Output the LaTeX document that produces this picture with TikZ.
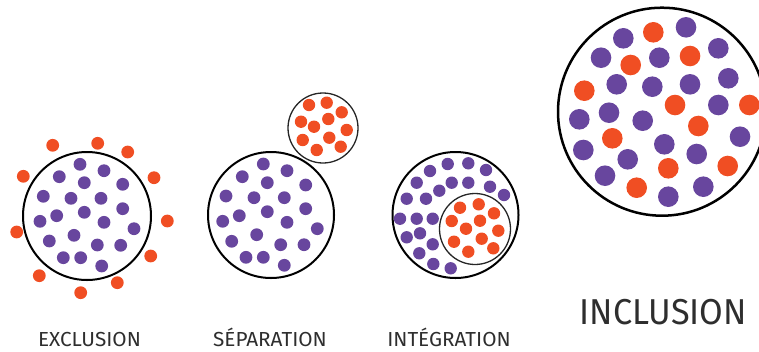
\documentclass[tikz,border=0pt]{standalone}
\usepackage{fontspec}
\setmainfont{Fira Sans}
\definecolor{purp}{HTML}{68469E}
\definecolor{oran}{HTML}{F04E23}
\definecolor{txt}{HTML}{2E2E2E}
\begin{document}
\begin{tikzpicture}[x=1pt,y=-1pt,
  ring/.style={draw=black,line width=2pt},
  thinring/.style={draw=black!85,line width=1.3pt},
  lbl/.style={text=txt,inner sep=0pt,anchor=center},
]
\useasboundingbox (0,0) rectangle (759,351);
\newcommand{\pd}[3]{\fill[purp] (#1,#2) circle (#3);}
\newcommand{\od}[3]{\fill[oran] (#1,#2) circle (#3);}
% ---------- EXCLUSION ----------
\draw[ring] (87,216) circle (64);
\foreach \x/\y in {80/164.3,59.3/176.7,104/170.7,84.3/182.7,122.7/184.3,43.3/196.3,71/198.3,101/198.3,84.3/212.3,122.7/208.7,56.7/215.7,40/221.3,104/222.3,134/228.7,74/235.3,49.3/241,97.3/245,120.7/245.3,63.3/257.7,80.7/257.7,101.7/266}
  {\pd{\x}{\y}{6.4}}
\foreach \x/\y in {52.7/145.3,97.7/143.3,127.7/152,23.3/176.3,154/177.7,167.3/221,16.7/232,150.7/256,39.3/275.7,117.3/282.7,80.7/292.7}
  {\od{\x}{\y}{6.4}}
% ---------- SEPARATION ----------
\draw[ring] (271,215) circle (63);
\foreach \x/\y in {263.3/164,242.3/176.7,287/170.7,267.3/182.7,305.7/185,226/196,254/197.7,284.3/197.7,267.3/211.7,305.7/208.7,239.3/215.7,222.7/221.3,287/222.3,317.3/228.7,256.7/234.7,231.7/241.3,280.7/244.7,304/244.7,246/257.3,263.3/257.3,284.3/265.3}
  {\pd{\x}{\y}{6.4}}
\draw[thinring] (323,128) circle (35);
\foreach \x/\y in {309/105,326.7/102.7,341.7/112.3,301/121.7,314/126.7,328.3/119,346.7/130,302.7/140,329.3/137.7,316.7/150,340.7/146.7}
  {\od{\x}{\y}{6.2}}
% ---------- INTEGRATION ----------
\draw[ring] (455.5,215) circle (63);
\foreach \x/\y in {447.7/164,468.3/163.3,430/171,486/170,416.7/182.7,451.7/182.7,468.3/182.7,439.3/190.7,490/186.7,504/195,406.7/198.7,426/198.7,400/218.7,416.7/218.7,432.7/218.7,420/233.3,406.7/237.3,432.7/244.3,419.3/253.3,433.3/264,450.7/268.3}
  {\pd{\x}{\y}{6.2}}
\draw[thinring] (475,229) circle (35.5);
\foreach \x/\y in {460/207.7,478.7/204.3,494/213.3,451.7/221,480/220.7,466/228.7,498.3/230.7,454/241.7,481.7/238.7,468.3/251.7,493.3/248.3}
  {\od{\x}{\y}{6.2}}
% ---------- INCLUSION ----------
\draw[draw=black,line width=2.5pt] (662,111.7) circle (104);
\foreach \x/\y in {623.3/38.3,686/27.3,601/57.7,659.3/57.7,718.3/48.3,616.7/84.3,652.3/86.7,690/84.3,728.3/78.3,609/112.7,579.3/119.3,642.7/120.7,718.3/105,740/136.7,583.3/150,664.3/144.3,696.7/154,627.7/159.3,605/175.7,703.3/186.7,668.3/196.7}
  {\pd{\x}{\y}{10.3}}
\foreach \x/\y in {653.3/32.3,690/56,630.7/65,584.3/90.7,675/105,749.3/105,698.3/126,612.3/138.3,668.3/168.3,727.7/166,636.7/187.7}
  {\od{\x}{\y}{10.3}}
% ---------- labels ----------
\node[lbl,font=\fontsize{20.3}{22}\selectfont] (lexc) at (89.5,339.7) {\scalebox{1.02}[1]{EXCLUSION}};
\node[lbl,font=\fontsize{20.3}{22}\selectfont,anchor=base] (lsep) at (270,346.7) {\scalebox{1.02}[1]{SÉPARATION}};
\node[lbl,font=\fontsize{20.3}{22}\selectfont,anchor=base] (lint) at (449,346.7) {\scalebox{1.02}[1]{INTÉGRATION}};
\node[lbl,font=\fontsize{36}{40}\selectfont] (linc) at (663.3,312.3) {\scalebox{0.95}[1]{INCLUSION}};
\end{tikzpicture}
\end{document}
